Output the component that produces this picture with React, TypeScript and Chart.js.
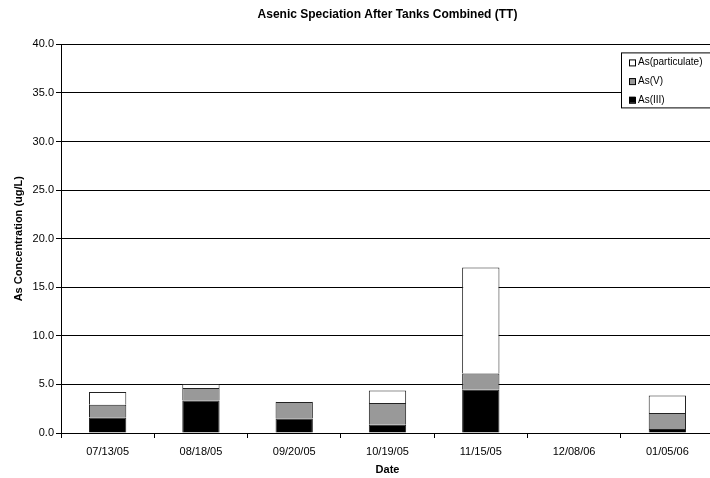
import React, { useEffect, useRef } from "react";
import { Chart, registerables } from "chart.js";

Chart.register(...registerables);

const categories = ["07/13/05", "08/18/05", "09/20/05", "10/19/05", "11/15/05", "12/08/06", "01/05/06"];
const asIII = [1.6, 3.35, 1.5, 0.85, 4.45, null, 0.41];
const asV = [1.31, 1.28, 1.69, 2.24, 1.68, null, 1.65];
const asParticulate = [1.31, 0.41, 0.03, 1.29, 10.91, null, 1.81];
const yTicks = [0, 5, 10, 15, 20, 25, 30, 35, 40];

const FONT = "Arial, 'Liberation Sans', sans-serif";

const insideLegend = {
  id: "insideLegend",
  afterDraw(chart: any) {
    const { ctx, chartArea } = chart;
    const left = chartArea.left + 560;
    const top = chartArea.top + 8;
    const w = 120;
    const h = 55;
    ctx.save();
    ctx.fillStyle = "#fff";
    ctx.fillRect(left, top, w, h);
    ctx.strokeStyle = "#000";
    ctx.lineWidth = 1;
    ctx.strokeRect(left + 0.5, top + 0.5, w, h);
    const items = [...chart.data.datasets].reverse();
    ctx.font = "10px " + FONT;
    ctx.textBaseline = "middle";
    items.forEach((ds: any, i: number) => {
      const y = top + 10 + i * 18.7;
      ctx.fillStyle = ds.backgroundColor;
      ctx.fillRect(left + 8, y - 3, 6, 6);
      ctx.strokeStyle = "#000";
      ctx.strokeRect(left + 8.5, y - 2.5, 6, 6);
      ctx.fillStyle = "#000";
      ctx.fillText(ds.label, left + 17, y);
    });
    ctx.restore();
  },
};

const whiteBg = {
  id: "whiteBg",
  beforeDraw(chart: any) {
    const { ctx, width, height } = chart;
    ctx.save();
    ctx.fillStyle = "#fff";
    ctx.fillRect(0, 0, width, height);
    ctx.restore();
  },
};

export default function App() {
  const ref = useRef<HTMLCanvasElement>(null);
  useEffect(() => {
    if (!ref.current) return;
    const chart = new Chart(ref.current, {
      type: "bar",
      data: {
        labels: categories,
        datasets: [
          { label: "As(III)", data: asIII as any, backgroundColor: "#000000", borderColor: "#222", borderWidth: 1 },
          { label: "As(V)", data: asV as any, backgroundColor: "#999999", borderColor: "#222", borderWidth: 1 },
          { label: "As(particulate)", data: asParticulate as any, backgroundColor: "#ffffff", borderColor: "#222", borderWidth: 1 },
        ],
      },
      options: {
        responsive: false,
        animation: false,
        devicePixelRatio: 1,
        layout: { padding: { left: 0, right: 2, top: 0, bottom: 0 } },
        datasets: { bar: { barPercentage: 0.4, categoryPercentage: 1 } },
        plugins: {
          legend: { display: false },
          tooltip: { enabled: false },
          title: {
            display: true,
            text: "Asenic Speciation After Tanks Combined (TT)",
            fullSize: false,
            color: "#000",
            font: { family: FONT, size: 12, weight: "bold" },
            padding: { top: 7, bottom: 23 },
          },
        },
        scales: {
          x: {
            stacked: true,
            offset: true,
            grid: { display: true, drawOnChartArea: false, offset: true, color: "#000", tickColor: "#000", tickLength: 5 },
            border: { color: "#000", width: 1 },
            ticks: { color: "#000", font: { family: FONT, size: 11 }, padding: 7, maxRotation: 0, autoSkip: false },
            title: { display: true, text: "Date", color: "#000", font: { family: FONT, size: 11, weight: "bold" }, padding: { top: 4, bottom: 1 } },
            afterFit: (s: any) => { s.height = 45; },
          },
          y: {
            stacked: true,
            min: 0,
            max: 40,
            afterBuildTicks: (s: any) => { s.ticks = yTicks.map((v) => ({ value: v })); },
            grid: { color: "#000", tickColor: "#000", tickLength: 5, lineWidth: 1 },
            border: { color: "#000", width: 1 },
            ticks: { color: "#000", font: { family: FONT, size: 11 }, padding: 2, callback: (v: any) => Number(v).toFixed(1) },
            title: { display: true, text: "As Concentration (ug/L)", color: "#000", font: { family: FONT, size: 11, weight: "bold" }, padding: { top: 12, bottom: 0 } },
            afterFit: (s: any) => { s.width = 61; },
          },
        },
      },
      plugins: [whiteBg, insideLegend],
    } as any);
    return () => chart.destroy();
  }, []);
  return (
    <div style={{ position: "fixed", left: 0, top: 0, width: 710, height: 478, overflow: "hidden", background: "#fff" }}>
      <canvas ref={ref} width={716} height={478} style={{ display: "block" }} />
    </div>
  );
}
